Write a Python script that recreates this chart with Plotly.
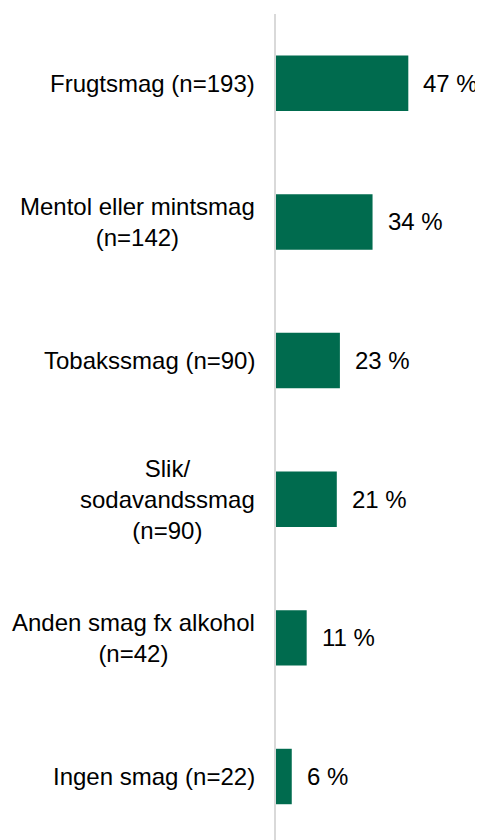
import plotly.graph_objects as go

categories = [
    "Frugtsmag (n=193)",
    "Mentol eller mintsmag<br>(n=142)",
    "Tobakssmag (n=90)",
    "Slik/<br>sodavandssmag<br>(n=90)",
    "Anden smag fx alkohol<br>(n=42)",
    "Ingen smag (n=22)",
]
values = [47.0, 34.3, 22.7, 21.6, 10.9, 5.6]
value_labels = ["47 %", "34 %", "23 %", "21 %", "11 %", "6 %"]

GREEN = "#006B4E"
FONT = "Liberation Sans, Arial, sans-serif"
FS = 24

idx = list(range(len(categories)))

fig = go.Figure(go.Bar(
    x=values, y=idx, orientation="h",
    marker=dict(color=GREEN, line=dict(width=0)),
    width=0.4, hoverinfo="skip",
))

for i, (c, v, t) in enumerate(zip(categories, values, value_labels)):
    fig.add_annotation(x=0, y=i, xref="x", yref="y", text=c, showarrow=False,
                       xanchor="right", align="center", xshift=-19,
                       font=dict(family=FONT, size=FS, color="#000000"))
    fig.add_annotation(x=v, y=i, xref="x", yref="y", text=t, showarrow=False,
                       xanchor="left", xshift=13,
                       font=dict(family=FONT, size=FS, color="#000000"))

fig.update_layout(
    width=475, height=832,
    margin=dict(l=268, r=0, t=6, b=0),
    paper_bgcolor="white", plot_bgcolor="white",
    showlegend=False,
    xaxis=dict(range=[0, 207 / 2.815], visible=False, fixedrange=True),
    yaxis=dict(range=[5.458, -0.5], showticklabels=False, showgrid=False,
               zeroline=False, showline=True, linecolor="#d9d9d9", linewidth=2,
               ticks="", fixedrange=True),
)

fig.write_html("out.html")
